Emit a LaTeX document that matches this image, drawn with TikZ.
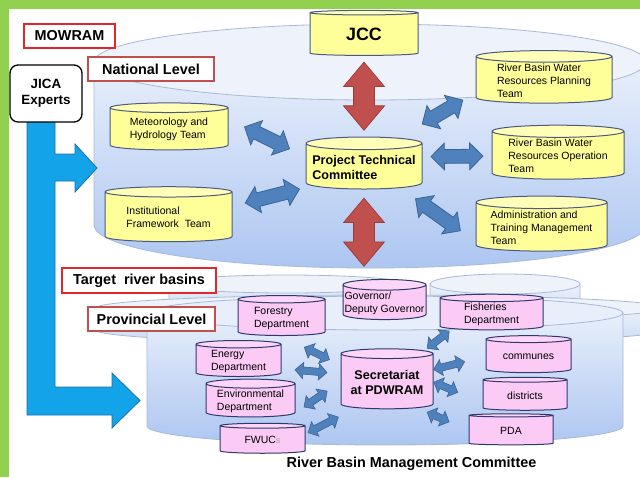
\documentclass[tikz,border=0pt]{standalone}
\usepackage{fontspec}
\setmainfont{Liberation Sans}
\usepackage{tikz}
\usetikzlibrary{shapes.geometric,shapes.arrows}

\definecolor{framegreen}{HTML}{92D050}
\definecolor{cylyellow}{HTML}{FFFF99}
\definecolor{cylpink}{HTML}{FBCBF6}
\definecolor{cylline}{HTML}{4A5A80}
\definecolor{pinkline}{HTML}{2E3A6B}
\definecolor{arrblue}{HTML}{4F81BD}
\definecolor{arrblueline}{HTML}{3A6496}
\definecolor{arrred}{HTML}{C0504D}
\definecolor{arrredline}{HTML}{A03C3A}
\definecolor{jicablue}{HTML}{12A3E8}
\definecolor{jicaline}{HTML}{1F6FA8}
\definecolor{lvlred}{HTML}{E3262A}
\definecolor{lvlbrown}{HTML}{C0504D}
\definecolor{levelline}{HTML}{A7B9D9}
\definecolor{leveltop}{HTML}{EEF3FB}
\definecolor{levelhi}{HTML}{E8EFFB}
\definecolor{levello}{HTML}{ADC6F1}
\definecolor{backtop}{HTML}{EEF2F9}
\definecolor{backlo}{HTML}{C9DAF5}

\newcommand{\smalltxt}{\fontsize{10.5}{13}\selectfont}
\newcommand{\boldtxt}{\fontsize{12.6}{15}\selectfont\bfseries}
\newcommand{\lvltxt}{\fontsize{14.4}{16}\selectfont\bfseries}

\begin{document}
\begin{tikzpicture}[x=1pt, y=-1pt,
	ycyl/.style={cylinder, shape border rotate=90, aspect=0.12, draw=cylline, line width=1pt,
		cylinder uses custom fill, cylinder body fill=cylyellow, cylinder end fill=cylyellow!70!white,
		align=left, inner sep=1pt, font=\smalltxt},
	pcyl/.style={cylinder, shape border rotate=90, aspect=0.13, draw=pinkline, line width=1pt,
		cylinder uses custom fill, cylinder body fill=cylpink, cylinder end fill=cylpink!80!white,
		align=left, inner sep=1pt, font=\smalltxt},
	bluearr/.style={double arrow, draw=arrblueline, fill=arrblue, line width=0.8pt, inner sep=6.5pt,
		double arrow head extend=6.5pt, minimum height=50pt, sloped},
	redarr/.style={double arrow, draw=arrredline, fill=arrred, line width=0.8pt, inner sep=10pt,
		double arrow head extend=10pt, double arrow tip angle=80, minimum height=68pt, sloped},
	parr/.style={double arrow, draw=arrblueline, fill=arrblue, line width=0.6pt, inner sep=3.3pt,
		double arrow head extend=4.5pt, minimum height=28pt, sloped},
	redbox/.style={draw=lvlred, line width=2pt, fill=white, inner sep=0pt, font=\lvltxt},
	brownbox/.style={draw=lvlbrown, line width=1.3pt, fill=white, inner sep=0pt, font=\lvltxt},
	levelcyl/.style={draw=levelline, line width=0.8pt}]

	\useasboundingbox (0,0) rectangle (640,477);
	\clip (0,0) rectangle (640,477);
	\fill[white] (0,0) rectangle (640,477);
	\fill[framegreen] (0,0) rectangle (640,9);
	\fill[framegreen] (0,0) rectangle (9,477);

	\draw[levelcyl, top color=levelhi, bottom color=levello] (94,62) -- (94,225) arc[start angle=180, end angle=0, x radius=276, y radius=43] -- (646,62) -- cycle;
	\draw[levelcyl, fill=leveltop] (370,62) ellipse [x radius=276, y radius=38];

	\draw[levelcyl, top color=backtop, bottom color=backlo] (169,284) -- (169,300) arc[start angle=180, end angle=0, x radius=118, y radius=9] -- (405,284) -- cycle;
	\draw[levelcyl, fill=backtop] (287,284) ellipse [x radius=118, y radius=9];
	\draw[levelcyl, top color=backtop, bottom color=backlo] (430,284) -- (430,305) arc[start angle=180, end angle=0, x radius=75, y radius=10] -- (580,284) -- cycle;
	\draw[levelcyl, fill=backtop] (505,284) ellipse [x radius=75, y radius=10];
	\draw[levelcyl, top color=backtop, bottom color=backlo] (96,308) -- (96,330) arc[start angle=180, end angle=0, x radius=284, y radius=13] -- (664,308) -- cycle;
	\draw[levelcyl, fill=backtop] (380,308) ellipse [x radius=284, y radius=13];
	\draw[levelcyl, top color=levelhi, bottom color=levello] (147,313) -- (147,426) arc[start angle=180, end angle=0, x radius=238, y radius=19] -- (623,313) -- cycle;
	\draw[levelcyl, fill=levelhi] (385,313) ellipse [x radius=238, y radius=17];

	\fill[jicablue, draw=jicaline, line width=0.8pt] (27,122) -- (55,122) -- (55,154) -- (75,154) -- (75,144) -- (97,168) -- (75,192) -- (75,181) -- (55,181) -- (55,387) -- (112,387) -- (112,373) -- (140,400.5) -- (112,428) -- (112,415) -- (27,415) -- cycle;

	\node[redbox, minimum width=91pt, minimum height=24pt] (mowram) at (69.5,36) {MOWRAM};
	\node[brownbox, minimum width=126pt, minimum height=24pt] (natlvl) at (151,69) {National Level};
	\node[draw=black, line width=1.3pt, fill=white, rounded corners=8pt, minimum width=72pt, minimum height=57pt,
		align=center, inner sep=0pt, font={\fontsize{13.4}{16}\selectfont\bfseries}] (jica) at (46,93.5) {JICA\\Experts};
	\node[redbox, minimum width=154pt, minimum height=25pt] (target) at (139,280.5) {Target\ \ river basins};
	\node[brownbox, minimum width=127pt, minimum height=24pt] (provlvl) at (151.5,319) {Provincial Level};

	\node[ycyl, minimum width=108pt, minimum height=45pt, font={\fontsize{17.9}{20}\selectfont\bfseries}] (jcc) at (364,34.5) {JCC};
	\node[ycyl, minimum width=118pt, minimum height=47pt] (met) at (169,129.5) {Meteorology and\\Hydrology Team};
	\node[ycyl, minimum width=127pt, minimum height=55pt] (inst) at (168.5,217.5) {Institutional\\Framework\ \ Team};
	\node[ycyl, minimum width=116pt, minimum height=52pt, font=\boldtxt] (ptc) at (364,167) {Project Technical\\Committee};
	\node[ycyl, minimum width=136pt, minimum height=47pt] (plan) at (544,80.5) {River Basin Water\\Resources Planning\\Team};
	\node[ycyl, minimum width=132pt, minimum height=54pt] (oper) at (558,156) {River Basin Water\\Resources Operation\\Team};
	\node[ycyl, minimum width=131pt, minimum height=55pt] (admin) at (541.5,227.5) {Administration and\\Training Management\\Team};
	\coordinate (provtop) at (364,275);

	\node[pcyl, minimum width=83pt, minimum height=36pt] (gov) at (384.5,303) {Governor/\\Deputy Governor};
	\node[pcyl, minimum width=87pt, minimum height=40pt] (forest) at (281.5,318) {Forestry\\Department};
	\node[pcyl, minimum width=103pt, minimum height=33pt] (fish) at (491.5,314.5) {Fisheries\\Department};
	\node[pcyl, minimum width=85pt, minimum height=36pt] (energy) at (238.5,361) {Energy\\Department};
	\node[pcyl, minimum width=89pt, minimum height=32pt] (env) at (250.5,401) {Environmental\\Department};
	\node[pcyl, minimum width=85pt, minimum height=30pt] (fwuc) at (262.5,440) {FWUC{\color{gray!75}\fontsize{9}{9}\selectfont s}};
	\node[pcyl, minimum width=92pt, minimum height=60pt, align=center, font=\boldtxt] (secr) at (387,382) {Secretariat\\at PDWRAM};
	\node[pcyl, minimum width=85pt, minimum height=37pt] (comm) at (528.5,356.5) {communes};
	\node[pcyl, minimum width=84pt, minimum height=33pt] (dist) at (525,395.5) {districts};
	\node[pcyl, minimum width=84pt, minimum height=31pt] (pda) at (511,430.5) {PDA};

	\node[font={\fontsize{14.4}{16}\selectfont\bfseries}] (rbmc) at (411.5,464) {River Basin Management Committee};

	\path (jcc.south) -- node[redarr] {} (ptc.north);
	\path (ptc.south) -- node[redarr] {} (provtop);
	\path (met.10) -- node[bluearr] {} (ptc.170);
	\path (inst.10) -- node[bluearr, minimum height=56pt] {} (ptc.200);
	\path (ptc.40) -- node[bluearr, pos=0.57, minimum height=47pt] {} (plan.190);
	\path (ptc.10) -- node[bluearr, minimum height=52pt] {} (oper.west);
	\path (ptc.-30) -- node[bluearr, minimum height=55pt] {} (admin.192);

	\path (forest.south) -- node[parr, pos=0.6] {} (secr.160);
	\path (energy.-10) -- node[parr, minimum height=32pt] {} (secr.170);
	\path (env.-15) -- node[parr, pos=0.45] {} (secr.west);
	\path (fwuc.8) -- node[parr, pos=0.35, minimum height=34pt] {} (secr.-140);
	\path (secr.40) -- node[parr] {} (fish.200);
	\path (secr.15) -- node[parr, pos=0.3, minimum height=32pt] {} (comm.west);
	\path (secr.east) -- node[parr, pos=0.25, minimum height=26pt] {} (dist.190);
	\path (secr.-40) -- node[parr, pos=0.4, minimum height=24pt] {} (pda.west);
\end{tikzpicture}
\end{document}
